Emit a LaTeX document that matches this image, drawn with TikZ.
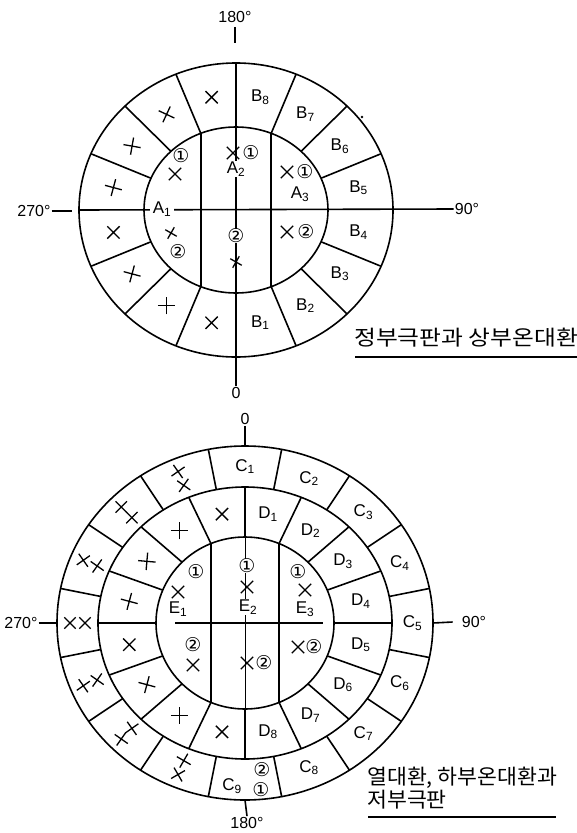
\documentclass[tikz,border=0pt]{standalone}
\usepackage{fontspec}
\usepackage{graphicx}
\setmainfont{Liberation Sans}
\newfontfamily\kfont{Noto Sans CJK KR}
\newfontfamily\cfont{DejaVu Sans}
\usetikzlibrary{calc,shapes.misc}

\begin{document}
\begin{tikzpicture}[
    x=1pt, y=-1pt,
    every node/.style={font=\fontsize{17}{18}\selectfont, inner sep=1pt},
    ring/.style={line width=1.6pt},
    axis/.style={line width=1.6pt},
    lbl/.style={font=\fontsize{17}{18}\selectfont},
    deg/.style={font=\fontsize{16}{17}\selectfont},
    num/.style={font=\cfont\fontsize{19}{20}\selectfont, inner sep=0pt},
    mk/.style={cross out, draw, line width=1.3pt, minimum size=11pt, inner sep=0pt},
    ttl/.style={font=\kfont\fontsize{21}{23}\selectfont, align=left}
]
\useasboundingbox (0,0) rectangle (577,833);

% ---------------- Upper disc ----------------
\coordinate (Tc) at (236,210);

% Rings
\draw[ring] (Tc) ellipse [x radius=157pt, y radius=147pt];
\draw[ring] (Tc) ellipse [x radius=92pt, y radius=83pt];
\foreach \a in {22.5,45,67.5,112.5,135,157.5,202.5,225,247.5,292.5,315,337.5}
  \draw[ring] ($(Tc)+({92*cos(\a)},{-83*sin(\a)})$) -- ($(Tc)+({157*cos(\a)},{-147*sin(\a)})$);
\draw[ring] ($(Tc)+({92*cos(112.5)},{-83*sin(112.5)})$) -- ($(Tc)+({92*cos(247.5)},{-83*sin(247.5)})$);
\draw[ring] ($(Tc)+({92*cos(67.5)},{-83*sin(67.5)})$) -- ($(Tc)+({92*cos(292.5)},{-83*sin(292.5)})$);

% Axes
\node[deg] (t180) at (235,17) {180°};
\node[deg] (t0) at (236,393) {0};
\node[deg] (t270) at (34,211) {270°};
\node[deg] (t90) at (467,209) {90°};
\draw[axis] ([yshift=-3pt]t180.south) -- ++(0,16);
\draw[axis] ($(Tc)+(0,-147)$) -- (t0.north);
\draw[axis] (t270.east) -- ++(20,0);
\draw[axis] ($(Tc)+(-157,0)$) -- (t90.west);

% Outer zone
\foreach \i/\a in {1/281.25,2/303.75,3/326.25,4/348.75,5/11.25,6/33.75,7/56.25,8/78.75}
  \node[lbl] (B\i) at ($(Tc)+({125*cos(\a)},{-115*sin(\a)})$) {B\textsubscript{\i}};
\foreach \i/\a/\r in {1/101.25/0,2/123.75/20,3/146.25/35,4/168.75/30,5/191.25/0,6/213.75/30,7/236.25/45,8/258.75/0}
  \node[mk, rotate=\r] (xb\i) at ($(Tc)+({125*cos(\a)},{-115*sin(\a)})$) {};
\fill (362,117) circle (1.3pt);

% Inner zone
\node[lbl, fill=white, inner xsep=3pt] (A1) at (162,209) {A\textsubscript{1}};
\node[lbl, fill=white, inner sep=0.5pt] (A2) at (236,169) {A\textsubscript{2}};
\node[lbl] (A3) at (300,194) {A\textsubscript{3}};
\node[num] (a1a) at (181,156) {①};
\node[mk] (xa1a) at (175,174) {};
\node[mk, minimum size=8pt, rotate=15] (xa1b) at (171,233) {};
\node[num] (a1b) at (178,252) {②};
\node[mk] (xa2a) at (233,153) {};
\node[num] (a2a) at (251,153) {①};
\node[num, fill=white] (a2b) at (236,236) {②};
\node[mk, minimum size=8pt, rotate=15] (xa2b) at (236,262) {};
\node[mk] (xa3a) at (287,172) {};
\node[num] (a3a) at (305,172) {①};
\node[mk] (xa3b) at (287,232) {};
\node[num] (a3b) at (306,232) {②};

% Caption
\node[ttl, anchor=west] (cap1) at (353,338) {\scalebox{1.13}[1]{정부극판과 상부온대환}};
\draw[line width=1.2pt] ($(cap1.west)+(2,19)$) -- ($(cap1.east)+(-2,19)$);

% ---------------- Lower disc ----------------
\coordinate (Lc) at (245,623);

% Rings
\draw[ring] (Lc) ellipse [x radius=188pt, y radius=177pt];
\draw[ring] (Lc) ellipse [x radius=147pt, y radius=136pt];
\draw[ring] (Lc) ellipse [x radius=89pt, y radius=86pt];
\foreach \a in {11.25,33.75,56.25,78.75,101.25,123.75,146.25,168.75,191.25,213.75,236.25,258.75,281.25,303.75,326.25,348.75}
  \draw[ring] ($(Lc)+({147*cos(\a)},{-136*sin(\a)})$) -- ($(Lc)+({188*cos(\a)},{-177*sin(\a)})$);
\foreach \a in {22.5,45,67.5,112.5,135,157.5,202.5,225,247.5,292.5,315,337.5}
  \draw[ring] ($(Lc)+({89*cos(\a)},{-86*sin(\a)})$) -- ($(Lc)+({147*cos(\a)},{-136*sin(\a)})$);
\draw[ring] ($(Lc)+({89*cos(112.5)},{-86*sin(112.5)})$) -- ($(Lc)+({89*cos(247.5)},{-86*sin(247.5)})$);
\draw[ring] ($(Lc)+({89*cos(67.5)},{-86*sin(67.5)})$) -- ($(Lc)+({89*cos(292.5)},{-86*sin(292.5)})$);

% Axes
\node[deg] (b0) at (245,419) {0};
\node[deg] (b180) at (247,823) {180°};
\node[deg] (b270) at (21,623) {270°};
\node[deg] (b90) at (474,622) {90°};
\draw[axis] (b0.south) -- ($(Lc)+(0,-177)$);
\draw[axis] ($(Lc)+(0,-136)$) -- ($(Lc)+(0,-86)$);
\draw[axis, line width=1pt] ($(Lc)+(0,-86)$) -- ($(Lc)+(0,86)$);
\draw[axis] ($(Lc)+(0,86)$) -- ($(Lc)+(0,136)$);
\draw[axis] ($(Lc)+(0,177)$) -- (b180.north);
\draw[axis] (b270.east) -- ($(Lc)+(-188,0)$);
\draw[axis] ($(Lc)+(-147,0)$) -- ($(Lc)+(-89,0)$);
\draw[axis] ($(Lc)+(-70,0)$) -- ($(Lc)+(78,0)$);
\draw[axis] ($(Lc)+(89,0)$) -- ($(Lc)+(147,0)$);
\draw[axis] ($(Lc)+(188,0)$) -- ([xshift=-8pt]b90.west);

% Outer zone
\foreach \i/\a in {1/90,2/67.5,3/45,4/22.5,5/0,6/-22.5,7/-45,8/-67.5}
  \node[lbl] (C\i) at ($(Lc)+({167.5*cos(\a)},{-156.5*sin(\a)})$) {C\textsubscript{\i}};
\node[lbl] (C9) at (232,786) {C\textsubscript{9}};
\node[num] (c9a) at (262,770) {②};
\node[num] (c9b) at (261,790) {①};
\foreach \i/\a/\r in {1/112.5/10,2/135/0,3/157.5/10,4/180/0,5/202.5/10,6/225/-10,7/247.5/15} {
  \node[mk, minimum size=10pt, rotate=\r] (xc\i-in) at ($(Lc)+({160*cos(\a)},{-149*sin(\a)})$) {};
  \node[mk, minimum size=10pt, rotate=-\r] (xc\i-out) at ($(Lc)+({175*cos(\a)},{-164*sin(\a)})$) {};
}

% Middle zone
\foreach \i/\a in {1/78.75,2/56.25,3/33.75,4/11.25,5/-11.25,6/-33.75,7/-56.25,8/-78.75}
  \node[lbl] (D\i) at ($(Lc)+({118*cos(\a)},{-111*sin(\a)})$) {D\textsubscript{\i}};
\foreach \i/\a/\r in {1/101.25/0,2/123.75/45,3/146.25/40,4/168.75/30,5/191.25/0,6/213.75/30,7/236.25/45,8/258.75/0}
  \node[mk, rotate=\r] (xd\i) at ($(Lc)+({118*cos(\a)},{-111*sin(\a)})$) {};

% Inner zone
\node[lbl] (E1) at (178,609) {E\textsubscript{1}};
\node[lbl, fill=white, inner sep=0.5pt] (E2) at (248,607) {E\textsubscript{2}};
\node[lbl] (E3) at (305,609) {E\textsubscript{3}};
\node[num] (e1a) at (196,572) {①};
\node[mk] (xe1a) at (178,592) {};
\node[num] (e1b) at (193,645) {②};
\node[mk] (xe1b) at (193,665) {};
\node[num, fill=white] (e2a) at (247,566) {①};
\node[mk] (xe2a) at (247,587) {};
\node[mk] (xe2b) at (247,663) {};
\node[num] (e2b) at (264,663) {②};
\node[num] (e3a) at (298,572) {①};
\node[mk] (xe3a) at (305,590) {};
\node[mk] (xe3b) at (298,647) {};
\node[num] (e3b) at (314,647) {②};

% Caption
\node[ttl, anchor=west] (cap2) at (366,778) {\scalebox{1.03}[1]{열대환, 하부온대환과}};
\node[ttl, anchor=west] (cap3) at (366,800) {\scalebox{1.03}[1]{저부극판}};
\draw[line width=1.2pt] ($(cap2.west)+(2,39)$) -- ($(cap2.east)+(-2,39)$);

\end{tikzpicture}
\end{document}
